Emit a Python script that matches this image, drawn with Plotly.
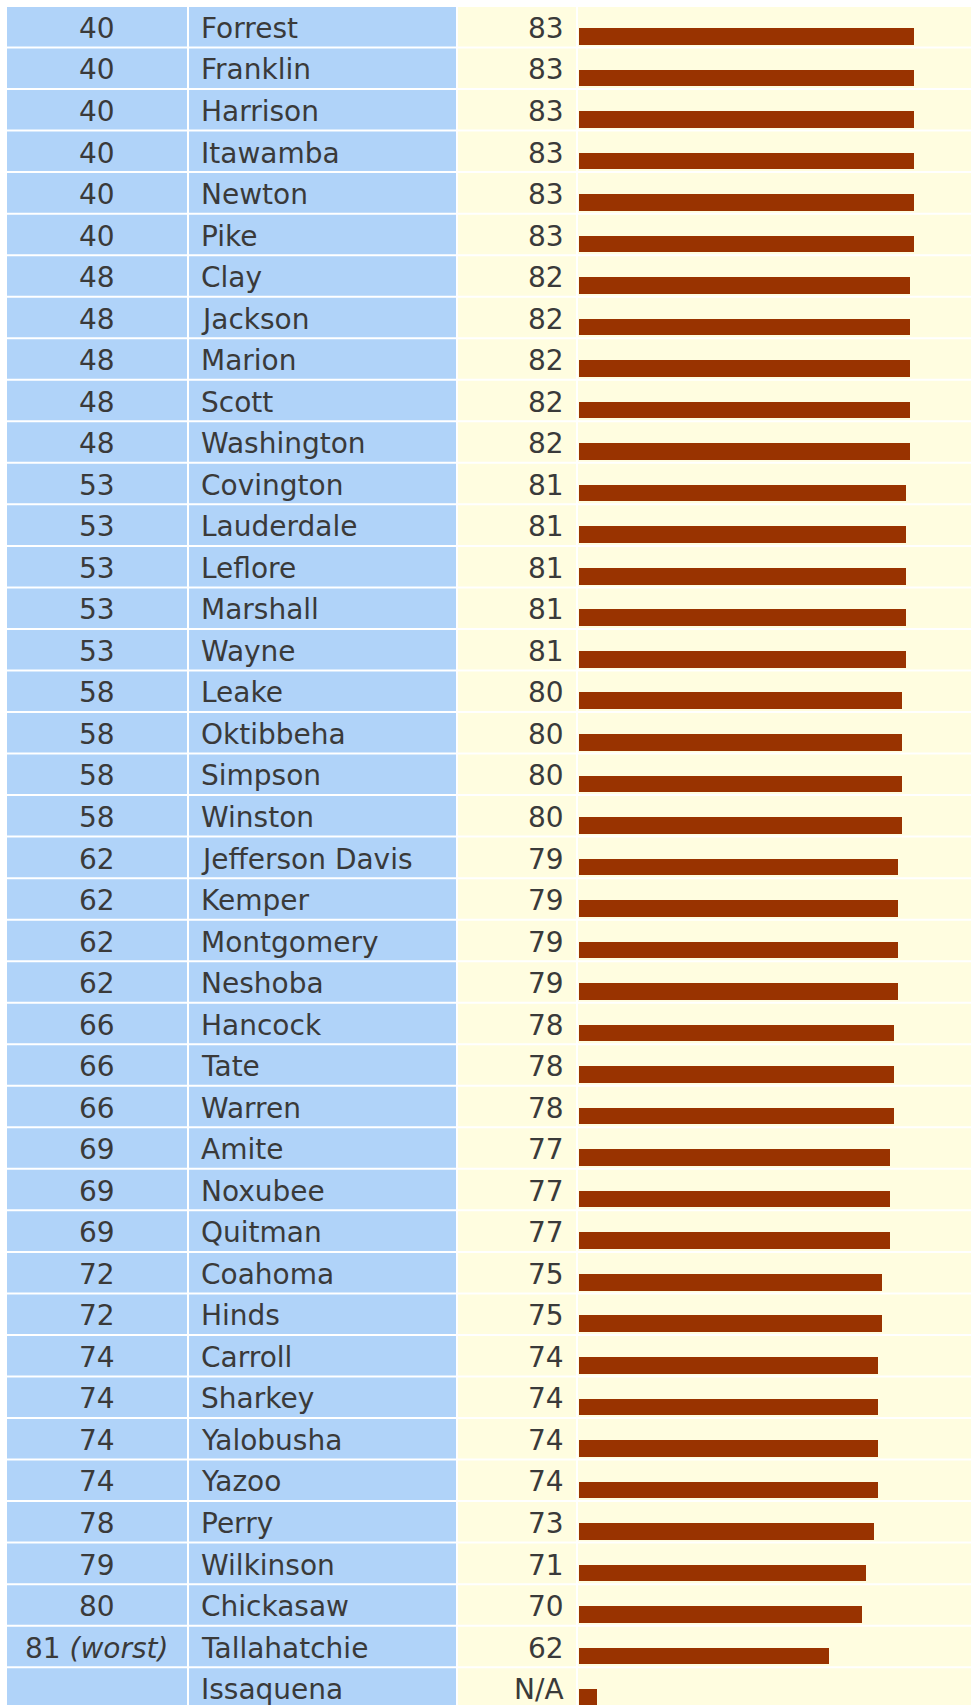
import plotly.graph_objects as go

# ---- data ----
ranks = ["40", "40", "40", "40", "40", "40",
         "48", "48", "48", "48", "48",
         "53", "53", "53", "53", "53",
         "58", "58", "58", "58",
         "62", "62", "62", "62",
         "66", "66", "66",
         "69", "69", "69",
         "72", "72",
         "74", "74", "74", "74",
         "78", "79", "80", "81 <i>(worst)</i>", ""]
counties = ["Forrest", "Franklin", "Harrison", "Itawamba", "Newton", "Pike",
            "Clay", "Jackson", "Marion", "Scott", "Washington",
            "Covington", "Lauderdale", "Leflore", "Marshall", "Wayne",
            "Leake", "Oktibbeha", "Simpson", "Winston",
            "Jefferson Davis", "Kemper", "Montgomery", "Neshoba",
            "Hancock", "Tate", "Warren",
            "Amite", "Noxubee", "Quitman",
            "Coahoma", "Hinds",
            "Carroll", "Sharkey", "Yalobusha", "Yazoo",
            "Perry", "Wilkinson", "Chickasaw", "Tallahatchie", "Issaquena"]
values = [83, 83, 83, 83, 83, 83,
          82, 82, 82, 82, 82,
          81, 81, 81, 81, 81,
          80, 80, 80, 80,
          79, 79, 79, 79,
          78, 78, 78,
          77, 77, 77,
          75, 75,
          74, 74, 74, 74,
          73, 71, 70, 62, None]
NA_STUB = 4.4  # small stub drawn for the N/A row

value_labels = [str(v) if v is not None else "N/A" for v in values]
bar_lengths = [v if v is not None else NA_STUB for v in values]
rows = list(range(len(counties)))

# ---- style / geometry ----
W, H = 971, 1705
PITCH = 41.53               # px per row
TOP = 6.0                   # px above first row
BLUE = "#B0D3F9"
YELLOW = "#FFFDE0"
BAR = "#993300"
TXT = "#3A3A3A"
FONT = "DejaVu Sans"
FS = 28
cols_px = [(7, 187), (189, 456), (458, 576), (578, 971)]
col_colors = [BLUE, BLUE, YELLOW, YELLOW]
bar_x0 = 579
px_per_unit = 4.04


def px(x):
    return x / W


y_top = -0.5 - TOP / PITCH
y_bot = y_top + H / PITCH
gap = 1.0 / PITCH

fig = go.Figure()
fig.add_trace(go.Bar(
    x=bar_lengths, y=rows, orientation="h",
    width=0.40, offset=0.03,
    marker=dict(color=BAR, line=dict(width=0)),
    hoverinfo="skip", showlegend=False,
))

shapes = []
for i in rows:
    for (x0, x1), c in zip(cols_px, col_colors):
        shapes.append(dict(type="rect", xref="paper", yref="y",
                           x0=px(x0), x1=px(x1),
                           y0=i - 0.5 + gap, y1=i + 0.5 - gap,
                           fillcolor=c, line=dict(width=0), layer="below"))

annotations = []
dy = 0.04
for i in rows:
    f = dict(family=FONT, size=FS, color=TXT)
    annotations.append(dict(x=px(97), y=i + dy, xref="paper", yref="y",
                            text=ranks[i], showarrow=False, xanchor="center",
                            yanchor="middle", font=f))
    annotations.append(dict(x=px(199), y=i + dy, xref="paper", yref="y",
                            text=counties[i], showarrow=False, xanchor="left",
                            yanchor="middle", font=f))
    annotations.append(dict(x=px(566), y=i + dy, xref="paper", yref="y",
                            text=value_labels[i], showarrow=False, xanchor="right",
                            yanchor="middle", font=f))

fig.update_layout(
    width=W, height=H,
    margin=dict(l=0, r=0, t=0, b=0),
    paper_bgcolor="white", plot_bgcolor="rgba(0,0,0,0)",
    xaxis=dict(domain=[bar_x0 / W, 1], range=[0, (W - bar_x0) / px_per_unit],
               visible=False, fixedrange=True),
    yaxis=dict(range=[y_bot, y_top], visible=False, fixedrange=True),
    shapes=shapes, annotations=annotations,
    bargap=0,
)

fig.write_html(
    "out.html",
    config={"displayModeBar": False, "staticPlot": True},
    post_script=("document.documentElement.style.overflow='hidden';"
                 "document.body.style.margin='0';"
                 "document.body.style.overflow='hidden';"),
)
